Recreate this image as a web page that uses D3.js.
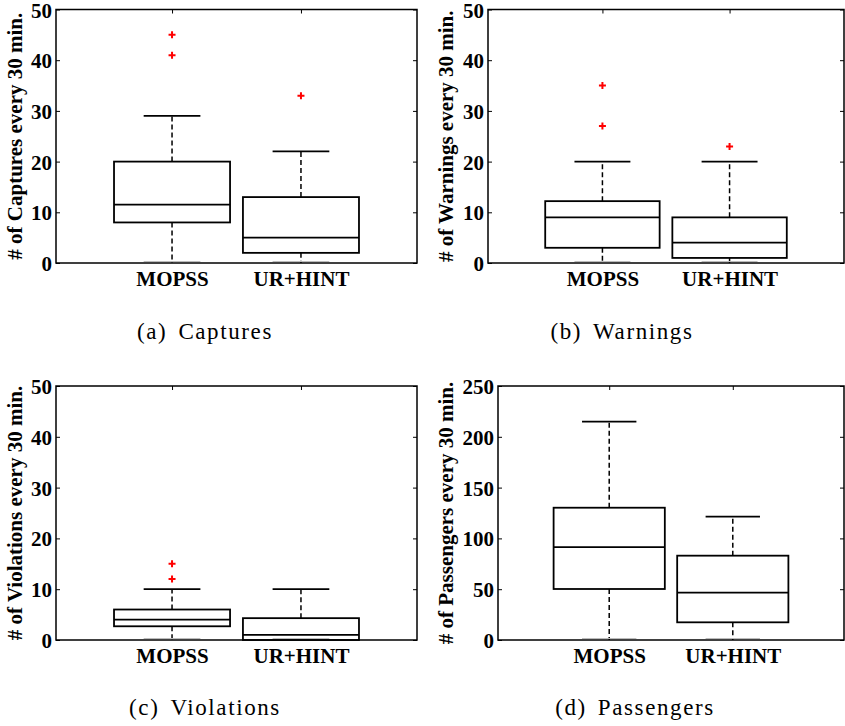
<!DOCTYPE html>
<html>
<head>
<meta charset="utf-8">
<script src="https://cdn.jsdelivr.net/npm/d3@7"></script>
<style>
  body { margin: 0; background: #fff; }
  svg text { font-family: "Liberation Serif", "Times New Roman", Times, "DejaVu Serif", serif; }
</style>
</head>
<body>
<svg id="chart" width="845" height="726"></svg>
<script>
// groups on the x axis
var categories = ["MOPSS", "UR+HINT"];

// box stats per group: lower whisker, q1, median, q3, upper whisker, outliers
var captures = [
  {lo: 0, q1: 8, med: 11.5, q3: 20, hi: 29, out: [41, 45]},
  {lo: 0, q1: 2, med: 5, q3: 13, hi: 22, out: [33]}
];
var warnings = [
  {lo: 0, q1: 3, med: 9, q3: 12.2, hi: 20, out: [27, 35]},
  {lo: 0, q1: 1, med: 4, q3: 9, hi: 20, out: [23]}
];
var violations = [
  {lo: 0, q1: 2.7, med: 4, q3: 6, hi: 10, out: [12, 15]},
  {lo: 0, q1: 0, med: 1, q3: 4.3, hi: 10, out: []}
];
var passengers = [
  {lo: 0, q1: 50.2, med: 91.5, q3: 130.2, hi: 215, out: []},
  {lo: 0, q1: 17.4, med: 46.6, q3: 83, hi: 121.4, out: []}
];

var ticks50 = [0, 10, 20, 30, 40, 50];
var ticks250 = [0, 50, 100, 150, 200, 250];

var panels = [
  {data: captures, ticks: ticks50, ylabel: "# of Captures every 30 min.", tag: "(a)", name: "Captures",
   left: 56, right: 417, top: 9.5, bottom: 263, labelX: 15, capX: 205, capY: 339},
  {data: warnings, ticks: ticks50, ylabel: "# of Warnings every 30 min.", tag: "(b)", name: "Warnings",
   left: 488, right: 844, top: 9.5, bottom: 263, labelX: 446, capX: 622, capY: 339},
  {data: violations, ticks: ticks50, ylabel: "# of Violations every 30 min.", tag: "(c)", name: "Violations",
   left: 56, right: 417, top: 386, bottom: 640, labelX: 15, capX: 205, capY: 715},
  {data: passengers, ticks: ticks250, ylabel: "# of Passengers every 30 min.", tag: "(d)", name: "Passengers",
   left: 498, right: 844, top: 386, bottom: 640, labelX: 446, capX: 635, capY: 715}
];

var svg = d3.select("#chart");
var boxW = 0.9, capW = 0.44, tickLen = 4;
var fontSize = 21;

panels.forEach(function(p) {
  var x = d3.scaleLinear().domain([0.1, 2.9]).range([p.left, p.right]);
  var y = d3.scaleLinear().domain([p.ticks[0], p.ticks[p.ticks.length - 1]]).range([p.bottom, p.top]);
  var g = svg.append("g");

  // frame
  g.append("rect")
    .attr("x", p.left).attr("y", p.top)
    .attr("width", p.right - p.left).attr("height", p.bottom - p.top)
    .attr("fill", "none").attr("stroke", "#000").attr("stroke-width", 1.5);

  // left axis, ticks inward
  var yAxis = g.append("g")
    .attr("transform", "translate(" + p.left + ",0)")
    .call(d3.axisLeft(y).tickValues(p.ticks).tickSize(-tickLen).tickPadding(4));
  yAxis.attr("font-family", null).attr("font-size", null);
  yAxis.select(".domain").remove();
  yAxis.selectAll("text")
    .attr("font-size", fontSize).attr("font-weight", "bold").attr("fill", "#000")
    .attr("dy", "0.36em");

  // right ticks
  g.append("g")
    .attr("transform", "translate(" + p.right + ",0)")
    .call(d3.axisRight(y).tickValues(p.ticks).tickSize(-tickLen).tickFormat(""))
    .select(".domain").remove();

  // bottom axis with category labels
  var xAxis = g.append("g")
    .attr("transform", "translate(0," + p.bottom + ")")
    .call(d3.axisBottom(x).tickValues([1, 2]).tickSize(0).tickPadding(8)
      .tickFormat(function(d) { return categories[d - 1]; }));
  xAxis.attr("font-family", null).attr("font-size", null);
  xAxis.select(".domain").remove();
  xAxis.selectAll("text")
    .attr("font-size", fontSize).attr("font-weight", "bold").attr("fill", "#000");

  // top ticks
  g.append("g")
    .attr("transform", "translate(0," + p.top + ")")
    .call(d3.axisTop(x).tickValues([1, 2]).tickSize(-tickLen).tickFormat(""))
    .select(".domain").remove();

  g.selectAll(".tick line").attr("stroke", "#000").attr("stroke-width", 1);

  // y label
  g.append("text")
    .attr("transform", "translate(" + p.labelX + "," + ((p.top + p.bottom) / 2) + ") rotate(-90)")
    .attr("text-anchor", "middle").attr("dy", "0.35em")
    .attr("font-size", fontSize).attr("font-weight", "bold")
    .text(p.ylabel);

  // caption
  var cap = g.append("text")
    .attr("x", p.capX).attr("y", p.capY)
    .attr("text-anchor", "middle")
    .attr("font-size", 23)
    .attr("letter-spacing", 1.6);
  cap.append("tspan").text(p.tag);
  cap.append("tspan").attr("dx", 11).text(p.name);

  // boxes
  p.data.forEach(function(d, i) {
    var c = i + 1;
    var bg = g.append("g");
    // whiskers
    bg.append("line")
      .attr("x1", x(c)).attr("x2", x(c)).attr("y1", y(d.q3)).attr("y2", y(d.hi))
      .attr("stroke", "#000").attr("stroke-width", 1.5).attr("stroke-dasharray", "5,3");
    bg.append("line")
      .attr("x1", x(c)).attr("x2", x(c)).attr("y1", y(d.q1)).attr("y2", y(d.lo))
      .attr("stroke", "#000").attr("stroke-width", 1.5).attr("stroke-dasharray", "5,3");
    // caps
    bg.append("line")
      .attr("x1", x(c - capW / 2)).attr("x2", x(c + capW / 2))
      .attr("y1", y(d.hi)).attr("y2", y(d.hi))
      .attr("stroke", "#000").attr("stroke-width", 1.8);
    bg.append("line")
      .attr("x1", x(c - capW / 2)).attr("x2", x(c + capW / 2))
      .attr("y1", y(d.lo) - 1.5).attr("y2", y(d.lo) - 1.5)
      .attr("stroke", "#bbb").attr("stroke-width", 1);
    // box
    bg.append("rect")
      .attr("x", x(c - boxW / 2)).attr("y", y(d.q3))
      .attr("width", x(c + boxW / 2) - x(c - boxW / 2))
      .attr("height", y(d.q1) - y(d.q3))
      .attr("fill", "none").attr("stroke", "#000").attr("stroke-width", 1.8);
    // median
    bg.append("line")
      .attr("x1", x(c - boxW / 2)).attr("x2", x(c + boxW / 2))
      .attr("y1", y(d.med)).attr("y2", y(d.med))
      .attr("stroke", "#000").attr("stroke-width", 1.8);
    // outliers
    bg.selectAll("path.out").data(d.out).enter().append("path")
      .attr("class", "out")
      .attr("d", function(v) {
        var cx = x(c), cy = y(v), r = 3.5;
        return "M" + (cx - r) + "," + cy + "H" + (cx + r) + "M" + cx + "," + (cy - r) + "V" + (cy + r);
      })
      .attr("stroke", "#f00").attr("stroke-width", 2);
  });
});
</script>
</body>
</html>
